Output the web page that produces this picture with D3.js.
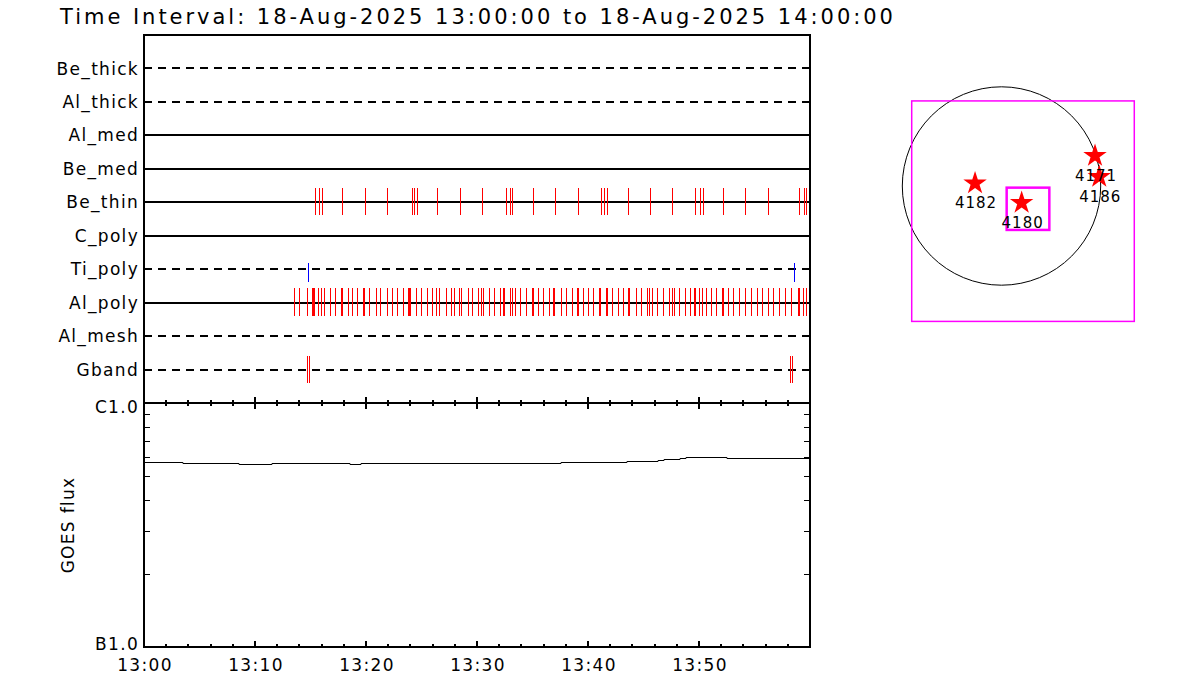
<!DOCTYPE html>
<html><head><meta charset="utf-8">
<script src="https://cdn.jsdelivr.net/npm/d3@7"></script>
<style>body{margin:0;background:#fff;} svg{display:block;font-family:"DejaVu Sans",sans-serif;}</style>
</head><body><svg id="c" width="1200" height="700"></svg>
<script>
const title = "Time Interval: 18-Aug-2025 13:00:00 to 18-Aug-2025 14:00:00";
const filters = ["Be_thick","Al_thick","Al_med","Be_med","Be_thin","C_poly","Ti_poly","Al_poly","Al_mesh","Gband"];
const dashedRows = ["Be_thick","Al_thick","Ti_poly","Al_mesh","Gband"];
// exposure times, minutes after 13:00
const beThinTimes = [15.43,15.79,16.06,17.86,19.94,21.92,24.12,24.35,24.62,26.42,28.50,30.48,32.59,33.00,33.18,35.07,
  37.05,39.13,41.20,41.47,41.74,43.63,45.61,47.59,49.67,50.12,50.39,52.19,54.17,56.24,59.04,59.49,59.67];
const alPolyTimes = [13.54,13.99,14.66,15.14,15.23,15.32,15.70,15.95,16.24,16.76,17.21,17.75,17.86,18.35,18.71,19.22,
  19.76,19.85,20.30,20.87,21.26,21.86,22.37,22.82,23.36,23.81,23.90,23.99,24.50,24.95,25.47,25.97,26.28,26.58,27.18,
  27.63,27.95,28.38,28.56,29.16,29.58,30.12,30.39,30.57,31.08,31.56,32.10,32.37,32.46,32.97,33.13,33.42,33.87,34.39,
  34.93,35.02,35.47,35.97,36.46,36.87,36.96,37.54,38.05,38.53,38.98,39.07,39.52,40.03,40.48,41.02,41.11,41.62,41.71,
  42.19,42.68,43.13,43.58,43.72,44.30,44.75,45.29,45.52,45.79,46.24,46.73,47.32,47.54,47.75,48.23,48.74,49.19,49.58,
  49.67,50.03,50.30,50.60,51.05,51.53,52.05,52.14,52.59,53.09,53.60,54.14,54.66,55.20,55.65,56.19,56.69,57.21,57.75,
  58.29,58.89,58.98,59.40,59.61,59.88];
const tiPolyTimes = [14.80,58.53];
const gbandTimes = [14.66,14.84,58.23,58.41];
const goesTimes = [0,3.51,8.56,11.53,18.56,19.55,37.57,43.51,46.31,46.85,48.29,48.83,52.52,60];
const goesFlux = [5.75e-7,5.69e-7,5.61e-7,5.68e-7,5.61e-7,5.68e-7,5.73e-7,5.78e-7,5.85e-7,5.90e-7,5.97e-7,6.01e-7,5.95e-7,5.95e-7];
const timeTickLabels = ["13:00","13:10","13:20","13:30","13:40","13:50"];
const fluxTickLabels = ["B1.0","C1.0"];
const fluxTickValues = [1e-7,1e-6];
const regionNums = ["4182","4180","4171","4186"];
const regionX = [-256,195,905,946];
const regionY = [26,-162,293,90];
const fovBox = [-869,825,1285,-1313];
const flareBox = [50,-16,463,-426];

const svg = d3.select("#c");
svg.append("rect").attr("width",1200).attr("height",700).attr("fill","#fff");

const L=144,R=810,T=35,M=403,B=647;
const x = d3.scaleLinear().domain([0,60]).range([L,R]);
const row = d3.scalePoint().domain(filters).range([T,M]).padding(1);
const y = d3.scaleLog().domain([1e-7,1e-6]).range([B,M]);
const FS = 17, LS = 1.3;

// title
svg.append("text").attr("x",60).attr("y",24).attr("font-size",21).attr("textLength",833)
  .attr("lengthAdjust","spacing").text(title);

// filter rows
const g1 = svg.append("g").attr("shape-rendering","crispEdges");
g1.selectAll("line.row").data(filters).join("line")
  .attr("x1",L).attr("x2",R).attr("y1",d=>row(d)).attr("y2",d=>row(d))
  .attr("stroke","#000").attr("stroke-width",2)
  .attr("stroke-dasharray",d=>dashedRows.includes(d)?"8,6":null);
svg.selectAll("text.lab").data(filters).join("text").attr("class","lab")
  .attr("x",139).attr("y",d=>row(d)).attr("dy","0.36em").attr("text-anchor","end")
  .attr("font-size",FS).attr("letter-spacing",LS).text(d=>d);

function ticks(times, name, color, up, down){
  g1.append("g").selectAll("line").data(times).join("line")
    .attr("x1",d=>Math.round(x(d))+0.5).attr("x2",d=>Math.round(x(d))+0.5)
    .attr("y1",row(name)-up).attr("y2",row(name)+down)
    .attr("stroke",color).attr("stroke-width",1);
}
ticks(beThinTimes,"Be_thin","#ff0000",14,13);
ticks(alPolyTimes,"Al_poly","#ff0000",15,13);
ticks(tiPolyTimes,"Ti_poly","#0000ff",6,13);
ticks(gbandTimes,"Gband","#ff0000",14,13);

// GOES
const line = d3.line().x((d,i)=>x(goesTimes[i])).y(d=>Math.round(y(d))+0.5).curve(d3.curveStepAfter);
svg.append("path").attr("d",line(goesFlux)).attr("fill","none").attr("stroke","#000").attr("stroke-width",1);

// time axes
const minor = d3.range(0,61,2).filter(v=>v%10!==0);
const major = d3.range(0,61,10);
const ax = svg.append("g").attr("stroke","#000").attr("shape-rendering","crispEdges");
ax.selectAll("line.mj").data(major).join("line")
  .attr("x1",d=>x(d)).attr("x2",d=>x(d)).attr("y1",M-6).attr("y2",M+6).attr("stroke-width",2);
ax.selectAll("line.mn").data(minor).join("line")
  .attr("x1",d=>x(d)).attr("x2",d=>x(d)).attr("y1",M-3).attr("y2",M+3).attr("stroke-width",2);
ax.selectAll("line.bmj").data(major).join("line")
  .attr("x1",d=>x(d)).attr("x2",d=>x(d)).attr("y1",B-6).attr("y2",B).attr("stroke-width",2);
ax.selectAll("line.bmn").data(minor).join("line")
  .attr("x1",d=>x(d)).attr("x2",d=>x(d)).attr("y1",B-3).attr("y2",B).attr("stroke-width",2);
svg.append("g").selectAll("text").data(timeTickLabels).join("text")
  .attr("x",(d,i)=>x(major[i])+1).attr("y",671).attr("text-anchor","middle")
  .attr("font-size",FS).attr("letter-spacing",LS).text(d=>d);

// flux axis minor ticks
const fminor = d3.range(2,10).map(v=>v*1e-7);
const fx = svg.append("g").attr("stroke","#000").attr("stroke-width",1).attr("shape-rendering","crispEdges");
fx.selectAll("line.l").data(fminor).join("line")
  .attr("x1",L).attr("x2",L+6).attr("y1",d=>Math.round(y(d))+0.5).attr("y2",d=>Math.round(y(d))+0.5);
fx.selectAll("line.r").data(fminor).join("line")
  .attr("x1",R-6).attr("x2",R).attr("y1",d=>Math.round(y(d))+0.5).attr("y2",d=>Math.round(y(d))+0.5);
svg.append("g").selectAll("text").data(fluxTickLabels).join("text")
  .attr("x",139).attr("y",(d,i)=>y(fluxTickValues[i])+(i===0?-3:4)).attr("dy","0.36em").attr("text-anchor","end")
  .attr("font-size",FS).attr("letter-spacing",LS).text(d=>d);
svg.append("text").attr("transform","translate(74,525) rotate(-90)").attr("text-anchor","middle")
  .attr("font-size",FS).attr("letter-spacing",LS).text("GOES flux");

// frames
const fr = svg.append("g").attr("shape-rendering","crispEdges");
fr.append("rect").attr("x",L).attr("y",T).attr("width",R-L).attr("height",M-T)
  .attr("fill","none").attr("stroke","#000").attr("stroke-width",2);
fr.append("rect").attr("x",L).attr("y",M).attr("width",R-L).attr("height",B-M)
  .attr("fill","none").attr("stroke","#000").attr("stroke-width",2);

// map
const mx = d3.scaleLinear().domain([-960,960]).range([902.3,1100.7]);
const my = d3.scaleLinear().domain([960,-960]).range([87,285]);
const mg = svg.append("g");
mg.append("circle").attr("cx",mx(0)).attr("cy",my(0)).attr("r",mx(960)-mx(0))
  .attr("fill","none").attr("stroke","#000").attr("stroke-width",1);
mg.append("rect").attr("x",mx(fovBox[0])).attr("y",my(fovBox[1]))
  .attr("width",mx(fovBox[2])-mx(fovBox[0])).attr("height",my(fovBox[3])-my(fovBox[1]))
  .attr("fill","none").attr("stroke","#ff00ff").attr("stroke-width",1.5);
mg.append("rect").attr("x",mx(flareBox[0])).attr("y",my(flareBox[1]))
  .attr("width",mx(flareBox[2])-mx(flareBox[0])).attr("height",my(flareBox[3])-my(flareBox[1]))
  .attr("fill","none").attr("stroke","#ff00ff").attr("stroke-width",2.5);
const star = d3.symbol().type(d3.symbolStar).size(170);
mg.selectAll("path.s").data(regionNums).join("path")
  .attr("transform",(d,i)=>`translate(${mx(regionX[i])},${my(regionY[i])})`)
  .attr("d",star).attr("fill","#ff0000");
mg.selectAll("text").data(regionNums).join("text")
  .attr("x",(d,i)=>mx(regionX[i])+1).attr("y",(d,i)=>my(regionY[i])+25)
  .attr("text-anchor","middle").attr("font-size",15).attr("letter-spacing",1).text(d=>d);
</script></body></html>
